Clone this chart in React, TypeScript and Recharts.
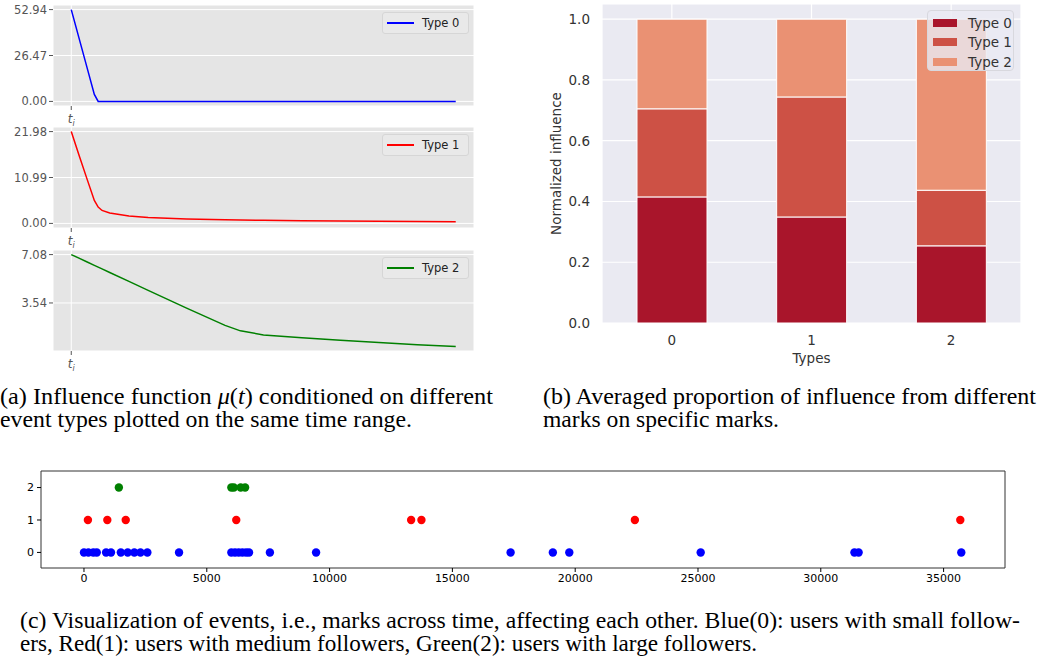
import React from 'react';
import {
  LineChart, Line, XAxis, YAxis, CartesianGrid, Legend,
  BarChart, Bar, ScatterChart, Scatter, ReferenceArea,
} from 'recharts';

// (a) influence function mu(t), same time grid for the three types
const muTimes = [0, 2, 4, 6, 7, 8, 10, 15, 20, 30, 40, 44, 50, 60, 70, 80, 90, 100];
const muType0 = [52.94, 36.65, 20.36, 4.07, 0, 0, 0, 0, 0, 0, 0, 0, 0, 0, 0, 0, 0, 0];
const muType1 = [21.98, 16.4, 10.9, 5.5, 3.9, 3.1, 2.5, 1.8, 1.4, 1.05, 0.88, 0.82, 0.74, 0.64, 0.56, 0.49, 0.43, 0.38];
const muType2 = [7.08, 6.82, 6.56, 6.29, 6.16, 6.03, 5.77, 5.12, 4.46, 3.16, 1.9, 1.5, 1.2, 0.99, 0.81, 0.64, 0.49, 0.36];

// (b) averaged proportion of influence
const barTypes = ['0', '1', '2'];
const fromType0 = [0.415, 0.349, 0.254];
const fromType1 = [0.29, 0.395, 0.183];
const fromType2 = [0.295, 0.256, 0.563];

// (c) event times per mark
const blueTimes = [0, 180, 380, 520, 900, 1100, 1500, 1780, 2050, 2300, 2580, 3870, 6000, 6150, 6300, 6450, 6600, 6720, 7570, 9450, 17370, 19090, 19760, 25110, 31370, 31540, 35720];
const redTimes = [160, 950, 1700, 6200, 13320, 13740, 22430, 35680];
const greenTimes = [1420, 6000, 6100, 6380, 6560];
const xTicksC = [0, 5000, 10000, 15000, 20000, 25000, 30000, 35000];

const muData = muTimes.map((t, i) => ({ t, type0: muType0[i], type1: muType1[i], type2: muType2[i] }));
const barData = barTypes.map((type, i) => ({ type, t0: fromType0[i], t1: fromType1[i], t2: fromType2[i] }));

const SANS = 'DejaVu Sans, sans-serif';
const SERIF = 'Liberation Serif, Times New Roman, serif';

const muPanels = [
  { key: 'type0', name: 'Type 0', color: '#0000FF', ticks: [0, 26.47, 52.94], domain: [-2.647, 55.587], top: 0 },
  { key: 'type1', name: 'Type 1', color: '#FF0000', ticks: [0, 10.99, 21.98], domain: [-1.099, 23.079], top: 122 },
  { key: 'type2', name: 'Type 2', color: '#008000', ticks: [3.54, 7.08], domain: [0.024, 7.416], top: 245 },
];

const TiTick = (props: any) => {
  const { x, y } = props;
  return (
    <text x={x} y={y + 11} textAnchor="middle" fill="#555" fontSize={12} fontFamily={SANS} fontStyle="italic">
      t<tspan dy={3} fontSize={8}>i</tspan>
    </text>
  );
};

function MuPanel({ p }: { p: typeof muPanels[number] }) {
  return (
    <div style={{ position: 'absolute', left: 0, top: p.top }}>
      <LineChart width={480} height={135} data={muData} margin={{ top: 5, right: 6, left: 0, bottom: 9 }}>
        <CartesianGrid fill="#E5E5E5" stroke="#fff" strokeWidth={1} />
        <XAxis
          type="number" dataKey="t" domain={[-4.75, 104.75]} ticks={[0]} height={20}
          axisLine={false} tickLine={{ stroke: '#555' }} tickSize={4} tick={<TiTick />}
        />
        <YAxis
          type="number" domain={p.domain} ticks={p.ticks} width={53} allowDataOverflow
          axisLine={false} tickLine={{ stroke: '#555' }} tickSize={4} tickMargin={2}
          tick={{ fill: '#555', fontSize: 11.5, fontFamily: SANS }}
          tickFormatter={(v: number) => v.toFixed(2)}
        />
        <Line type="linear" dataKey={p.key} stroke={p.color} strokeWidth={1.5} dot={false} isAnimationActive={false} />
        <Legend
          layout="horizontal" verticalAlign="middle" align="center"
          wrapperStyle={{ position: 'absolute', left: 382, top: 12, width: 87, height: 22 }}
          content={() => (
            <div style={{
              width: 85, height: 20, background: '#E9E9E9', border: '1px solid #D6D6D6', borderRadius: 3,
              display: 'flex', alignItems: 'center', fontFamily: SANS, fontSize: 11.5, color: '#222',
            }}>
              <span style={{ display: 'inline-block', width: 27, height: 2, background: p.color, marginLeft: 4, marginRight: 8 }} />
              {p.name}
            </div>
          )}
        />
      </LineChart>
    </div>
  );
}

const barColors = ['#A9152B', '#CD5145', '#EA9173'];
const barNames = ['Type 0', 'Type 1', 'Type 2'];

function InfluenceBars() {
  return (
    <div style={{ position: 'absolute', left: 540, top: 0 }}>
      <BarChart width={500} height={380} data={barData} margin={{ top: 4, right: 19, left: 0, bottom: 0 }} barSize={70}>
        <CartesianGrid fill="#EAEAF2" stroke="#fff" strokeWidth={1.2} />
        <XAxis
          dataKey="type" axisLine={false} tickLine={false} tickSize={0} tickMargin={12} height={57}
          tick={{ fill: '#333', fontSize: 13.5, fontFamily: SANS }}
          label={{ value: 'Types', position: 'insideTop', offset: 30, fill: '#333', fontSize: 13.5, fontFamily: SANS }}
        />
        <YAxis
          type="number" domain={[0, 1.05]} ticks={[0, 0.2, 0.4, 0.6, 0.8, 1]} width={62}
          axisLine={false} tickLine={false} tickSize={0} tickMargin={12}
          tick={{ fill: '#333', fontSize: 13.5, fontFamily: SANS }}
          tickFormatter={(v: number) => v.toFixed(1)}
          label={{ value: 'Normalized influence', angle: -90, position: 'insideLeft', offset: 16, fill: '#333', fontSize: 13.5, fontFamily: SANS, style: { textAnchor: 'middle' } }}
        />
        <Bar dataKey="t0" stackId="s" fill={barColors[0]} stroke="#fff" strokeWidth={1} isAnimationActive={false} />
        <Bar dataKey="t1" stackId="s" fill={barColors[1]} stroke="#fff" strokeWidth={1} isAnimationActive={false} />
        <Bar dataKey="t2" stackId="s" fill={barColors[2]} stroke="#fff" strokeWidth={1} isAnimationActive={false} />
        <Legend
          layout="horizontal" verticalAlign="middle" align="center"
          wrapperStyle={{ position: 'absolute', left: 387, top: 10, width: 89, height: 63 }}
          content={() => (
            <div style={{
              width: 87, height: 61, background: 'rgba(234,234,242,0.8)', border: '1px solid #D8D8DE', borderRadius: 4,
              fontFamily: SANS, fontSize: 13.5, color: '#333', paddingTop: 2, boxSizing: 'border-box',
            }}>
              {barNames.map((n, i) => (
                <div key={n} style={{ display: 'flex', alignItems: 'center', height: 19.5 }}>
                  <span style={{ display: 'inline-block', width: 24, height: 8, background: barColors[i], marginLeft: 5, marginRight: 11 }} />
                  {n}
                </div>
              ))}
            </div>
          )}
        />
      </BarChart>
    </div>
  );
}

const Dot = (props: any) => <circle cx={props.cx} cy={props.cy} r={4.2} fill={props.fill} />;

function EventScatter() {
  return (
    <div style={{ position: 'absolute', left: 0, top: 465 }}>
      <ScatterChart width={1040} height={130} margin={{ top: 6, right: 35, left: 0, bottom: 0 }}>
        <XAxis
          type="number" dataKey="t" domain={[-1750, 37500]} ticks={xTicksC} height={27} allowDataOverflow
          axisLine={false} tickLine={{ stroke: '#000' }} tickSize={4} tickMargin={2}
          tick={{ fill: '#000', fontSize: 11, fontFamily: SANS }}
        />
        <YAxis
          type="number" dataKey="y" domain={[-0.48, 2.51]} ticks={[0, 1, 2]} width={41} allowDataOverflow
          axisLine={false} tickLine={{ stroke: '#000' }} tickSize={4} tickMargin={3}
          tick={{ fill: '#000', fontSize: 11, fontFamily: SANS }}
        />
        <ReferenceArea x1={-1750} x2={37500} y1={-0.48} y2={2.51} fill="none" stroke="#333" strokeWidth={1} />
        <Scatter data={blueTimes.map(t => ({ t, y: 0 }))} fill="#0000FF" shape={<Dot />} isAnimationActive={false} />
        <Scatter data={redTimes.map(t => ({ t, y: 1 }))} fill="#FF0000" shape={<Dot />} isAnimationActive={false} />
        <Scatter data={greenTimes.map(t => ({ t, y: 2 }))} fill="#008000" shape={<Dot />} isAnimationActive={false} />
      </ScatterChart>
    </div>
  );
}

function Captions() {
  const common = { fontFamily: SERIF, fontSize: 22.5, fill: '#000', lengthAdjust: 'spacingAndGlyphs' as const };
  return (
    <svg width={1040} height={658} style={{ position: 'absolute', left: 0, top: 0 }}>
      <text x={0} y={404} textLength={493} {...common}>
        (a) Influence function <tspan fontStyle="italic">μ</tspan>(<tspan fontStyle="italic">t</tspan>) conditioned on different
      </text>
      <text x={0} y={427} textLength={412} {...common}>event types plotted on the same time range.</text>
      <text x={543} y={404} textLength={493} {...common}>(b) Averaged proportion of influence from different</text>
      <text x={543} y={427} textLength={236} {...common}>marks on specific marks.</text>
      <text x={20} y={628} textLength={1000} {...common}>
        (c) Visualization of events, i.e., marks across time, affecting each other. Blue(0): users with small follow-
      </text>
      <text x={20} y={651} textLength={737} {...common}>
        ers, Red(1): users with medium followers, Green(2): users with large followers.
      </text>
    </svg>
  );
}

export default function App() {
  return (
    <div style={{ position: 'absolute', left: 0, top: 0, width: 1040, height: 658, background: '#fff', overflow: 'hidden' }}>
      <Captions />
      {muPanels.map(p => <MuPanel key={p.key} p={p} />)}
      <InfluenceBars />
      <EventScatter />
    </div>
  );
}
